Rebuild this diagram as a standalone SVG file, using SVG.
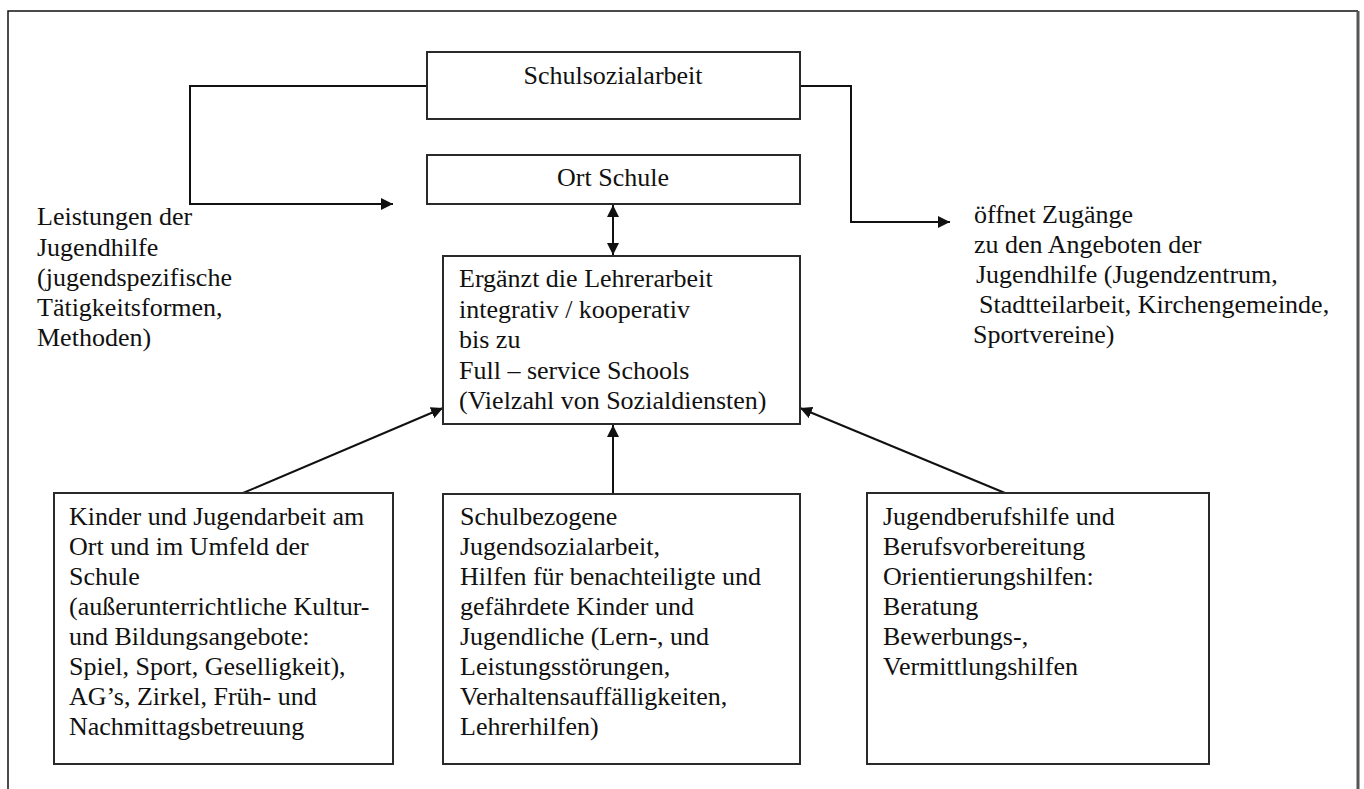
<svg xmlns="http://www.w3.org/2000/svg" width="1364" height="789" viewBox="0 0 1364 789">
<style>
  text { font-family: "Liberation Serif", "Times New Roman", serif; font-size: 26px; fill: #111; }
  .box { fill: #fff; stroke: #2a2a2a; stroke-width: 2; }
  .conn { fill: none; stroke: #111; stroke-width: 2; }
  .c { text-anchor: middle; }
</style>
<defs>
  <marker id="ah" viewBox="0 0 10 10" refX="10" refY="5" markerWidth="6" markerHeight="6" orient="auto" markerUnits="strokeWidth">
    <path d="M0,0 L10,5 L0,10 Z" fill="#111"/>
  </marker>
  <marker id="ahs" viewBox="0 0 10 10" refX="10" refY="5" markerWidth="6" markerHeight="6" orient="auto-start-reverse" markerUnits="strokeWidth">
    <path d="M0,0 L10,5 L0,10 Z" fill="#111"/>
  </marker>
</defs>
<rect width="1364" height="789" fill="#fff"/>
<g id="frame">
  <path d="M8,789 V11 H1358" fill="none" stroke="#111" stroke-width="1.5"/>
  <path d="M1358,11 V789" fill="none" stroke="#555" stroke-width="3"/>
</g>
<g id="connectors">
  <path class="conn" d="M427,86 H190 V204 H393" marker-end="url(#ah)"/>
  <path class="conn" d="M800,86 H851 V222 H950" marker-end="url(#ah)"/>
  <path class="conn" d="M613,205 V255" marker-start="url(#ahs)" marker-end="url(#ah)"/>
  <path class="conn" d="M243,493 L443,408" marker-end="url(#ah)"/>
  <path class="conn" d="M613,494 V425" marker-end="url(#ah)"/>
  <path class="conn" d="M1005,493 L800,408" marker-end="url(#ah)"/>
</g>
<g id="schulsozialarbeit">
  <rect class="box" x="427" y="52" width="373" height="67"/>
  <text class="c" x="613" y="84">Schulsozialarbeit</text>
</g>
<g id="ort-schule">
  <rect class="box" x="427" y="155" width="373" height="49"/>
  <text class="c" x="613" y="186">Ort Schule</text>
</g>
<g id="ergaenzt">
  <rect class="box" x="443" y="256" width="357" height="168"/>
  <text x="459" y="287">Ergänzt die Lehrerarbeit</text>
  <text x="459" y="317.5">integrativ / kooperativ</text>
  <text x="459" y="348">bis zu</text>
  <text x="459" y="378.5">Full – service Schools</text>
  <text x="459" y="409">(Vielzahl von Sozialdiensten)</text>
</g>
<g id="leistungen">
  <text x="37" y="225">Leistungen der</text>
  <text x="37" y="255.5">Jugendhilfe</text>
  <text x="37" y="286">(jugendspezifische</text>
  <text x="37" y="316">Tätigkeitsformen,</text>
  <text x="37" y="346">Methoden)</text>
</g>
<g id="oeffnet">
  <text x="974" y="223">öffnet Zugänge</text>
  <text x="974" y="253">zu den Angeboten der</text>
  <text x="976" y="283">Jugendhilfe (Jugendzentrum,</text>
  <text x="979" y="313">Stadtteilarbeit, Kirchengemeinde,</text>
  <text x="973" y="343">Sportvereine)</text>
</g>
<g id="kinder">
  <rect class="box" x="54" y="493" width="339" height="271"/>
  <text x="69" y="525">Kinder und Jugendarbeit am</text>
  <text x="69" y="555">Ort und im Umfeld der</text>
  <text x="69" y="585">Schule</text>
  <text x="69" y="615">(außerunterrichtliche Kultur-</text>
  <text x="69" y="645">und Bildungsangebote:</text>
  <text x="69" y="675">Spiel, Sport, Geselligkeit),</text>
  <text x="69" y="705">AG’s, Zirkel, Früh- und</text>
  <text x="69" y="735">Nachmittagsbetreuung</text>
</g>
<g id="schulbezogene">
  <rect class="box" x="443" y="494" width="357" height="270"/>
  <text x="460" y="525">Schulbezogene</text>
  <text x="460" y="555">Jugendsozialarbeit,</text>
  <text x="460" y="585">Hilfen für benachteiligte und</text>
  <text x="460" y="615">gefährdete Kinder und</text>
  <text x="460" y="645">Jugendliche (Lern-, und</text>
  <text x="460" y="675">Leistungsstörungen,</text>
  <text x="460" y="705">Verhaltensauffälligkeiten,</text>
  <text x="460" y="735">Lehrerhilfen)</text>
</g>
<g id="jugendberufshilfe">
  <rect class="box" x="867" y="493" width="342" height="271"/>
  <text x="883" y="525">Jugendberufshilfe und</text>
  <text x="883" y="555">Berufsvorbereitung</text>
  <text x="883" y="585">Orientierungshilfen:</text>
  <text x="883" y="615">Beratung</text>
  <text x="883" y="645">Bewerbungs-,</text>
  <text x="883" y="675">Vermittlungshilfen</text>
</g>
</svg>
